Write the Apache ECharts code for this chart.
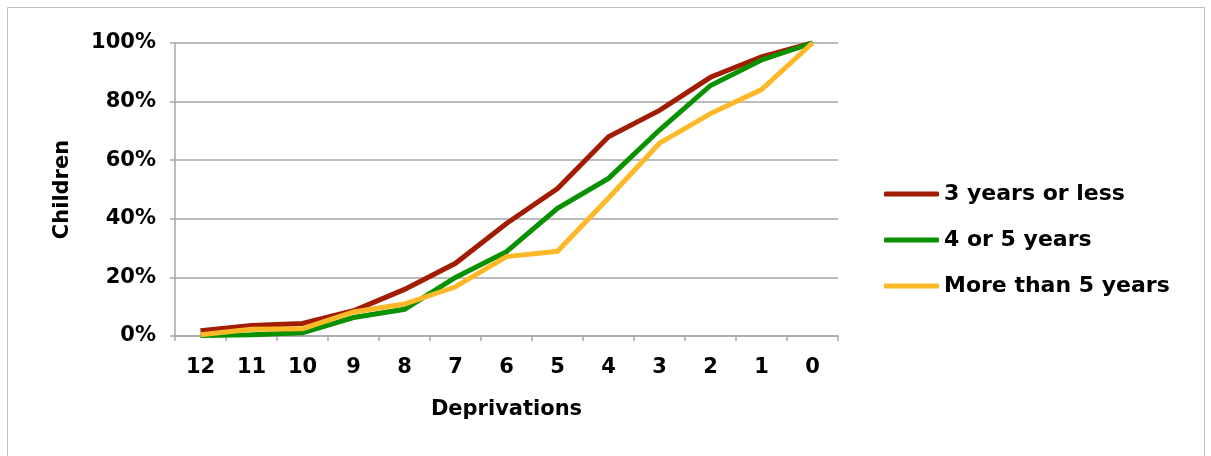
<!DOCTYPE html>
<html>
<head>
<meta charset="utf-8">
<style>
  html, body { margin: 0; padding: 0; background: #fff; }
  #chart { width: 1211px; height: 456px; }
</style>
<script src="https://cdn.jsdelivr.net/npm/echarts@6/dist/echarts.min.js"></script>
</head>
<body>
<div id="chart"></div>
<script>
// Number of deprivations, from most to fewest
const deprivations = ['12', '11', '10', '9', '8', '7', '6', '5', '4', '3', '2', '1', '0'];

// Cumulative share of children (%) by duration
const threeYearsOrLess = [1.8, 3.6, 4.3, 8.6, 15.9, 24.8, 38.4, 50.3, 68.0, 77.0, 88.3, 95.3, 100];
const fourOrFiveYears = [0.2, 0.4, 1.1, 6.3, 9.1, 20.0, 28.8, 43.6, 53.8, 70.3, 85.5, 94.2, 100];
const moreThanFiveYears = [0.4, 2.3, 2.5, 8.2, 10.9, 16.8, 27.1, 28.9, 47.1, 65.8, 75.9, 84.1, 100];

const seriesNames = ['3 years or less', '4 or 5 years', 'More than 5 years'];
const seriesColors = ['#A11C00', '#0A9100', '#FDB827'];

const FONT = '"DejaVu Sans", sans-serif';
const gridColor = '#A6A6A6';

const chart = echarts.init(document.getElementById('chart'), null, { renderer: 'canvas' });

const dataSets = [threeYearsOrLess, fourOrFiveYears, moreThanFiveYears];

chart.setOption({
  backgroundColor: '#fff',
  animation: false,
  graphic: [{
    type: 'rect',
    shape: { x: 7.5, y: 7.5, width: 1197, height: 470 },
    style: { fill: 'none', stroke: '#BFBFBF', lineWidth: 1 },
    silent: true
  }],
  grid: { left: 175, right: 373, top: 43, bottom: 120, containLabel: false },
  legend: {
    orient: 'vertical',
    left: 879,
    top: 178,
    icon: 'roundRect',
    itemWidth: 55,
    itemHeight: 5,
    itemGap: 24,
    textStyle: { fontFamily: FONT, fontWeight: 'bold', fontSize: 22, color: '#000' },
    data: seriesNames
  },
  xAxis: {
    type: 'category',
    data: deprivations,
    boundaryGap: true,
    name: 'Deprivations',
    nameLocation: 'middle',
    nameGap: 63,
    nameTextStyle: { fontFamily: FONT, fontWeight: 'bold', fontSize: 21, color: '#000' },
    axisLine: { show: true, lineStyle: { color: gridColor, width: 1.5 } },
    axisTick: { show: true, length: 5, alignWithLabel: false, lineStyle: { color: gridColor, width: 1.5 } },
    axisLabel: { margin: 21, fontFamily: FONT, fontWeight: 'bold', fontSize: 21, color: '#000' },
    splitLine: { show: false }
  },
  yAxis: {
    type: 'value',
    min: 0,
    max: 100,
    interval: 20,
    name: 'Children',
    nameLocation: 'middle',
    nameGap: 102,
    nameRotate: 90,
    nameTextStyle: { fontFamily: FONT, fontWeight: 'bold', fontSize: 21, color: '#000' },
    axisLine: { show: true, lineStyle: { color: gridColor, width: 1.5 } },
    axisTick: { show: true, length: 5, lineStyle: { color: gridColor, width: 1.5 } },
    axisLabel: { margin: 19, formatter: '{value}%', fontFamily: FONT, fontWeight: 'bold', fontSize: 21, color: '#000' },
    splitLine: { show: true, lineStyle: { color: gridColor, width: 1.5 } }
  },
  series: dataSets.map((values, i) => ({
    name: seriesNames[i],
    type: 'line',
    data: values,
    showSymbol: false,
    symbol: 'none',
    color: seriesColors[i],
    lineStyle: { width: 5, color: seriesColors[i], join: 'miter' }
  }))
});
</script>
</body>
</html>
